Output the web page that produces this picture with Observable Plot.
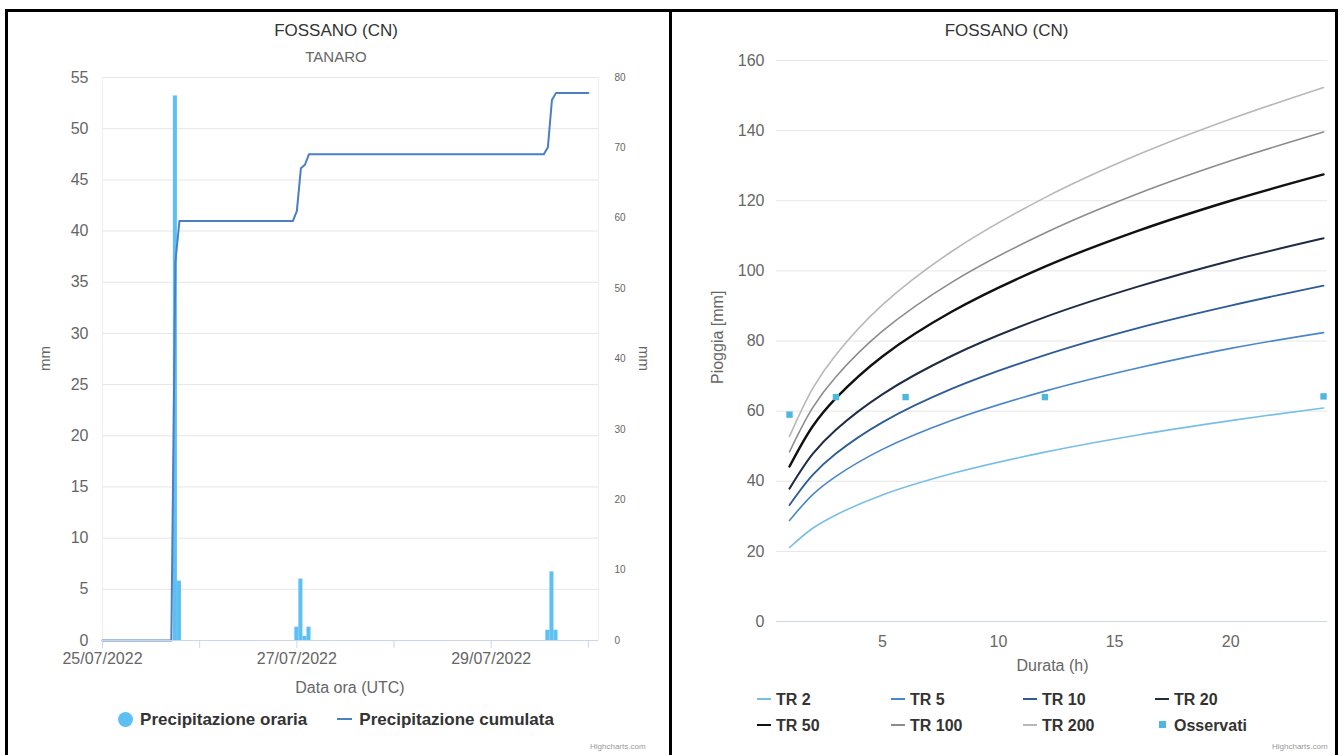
<!DOCTYPE html>
<html><head><meta charset="utf-8">
<script src="https://cdn.jsdelivr.net/npm/d3@7"></script>
<script src="https://cdn.jsdelivr.net/npm/@observablehq/plot@0.6"></script>
<style>
body{margin:0;background:#fff;font-family:"Liberation Sans",Arial,Helvetica,sans-serif;}
#page{position:relative;width:1344px;height:755px;overflow:hidden;background:#fff;}
.abs{position:absolute;white-space:nowrap;}
.panel{position:absolute;border:3px solid #000;box-sizing:border-box;}
.title{font-size:17px;color:#333;text-align:center;}
.sub{font-size:15px;color:#666;text-align:center;}
.axt{font-size:15px;color:#666;text-align:center;}
.leg{font-size:16px;font-weight:bold;color:#333;}
.cred{font-size:8px;color:#999;}
svg{position:absolute;overflow:visible;}
</style></head><body><div id="page"></div>
<script>
// ---------- LEFT CHART DATA ----------
const barTimes  = ["2022-07-25T18:00Z","2022-07-25T19:00Z",
                   "2022-07-27T00:00Z","2022-07-27T01:00Z","2022-07-27T02:00Z","2022-07-27T03:00Z",
                   "2022-07-29T14:00Z","2022-07-29T15:00Z","2022-07-29T16:00Z"];
const barValues = [53.2, 5.8, 1.3, 6.0, 0.4, 1.3, 1.0, 6.7, 1.0];
const cumTimes  = ["2022-07-25T00:00Z","2022-07-25T17:00Z","2022-07-25T18:00Z","2022-07-25T19:00Z",
                   "2022-07-26T23:00Z","2022-07-27T00:00Z","2022-07-27T01:00Z","2022-07-27T02:00Z","2022-07-27T03:00Z",
                   "2022-07-29T13:00Z","2022-07-29T14:00Z","2022-07-29T15:00Z","2022-07-29T16:00Z","2022-07-30T00:00Z"];
const cumValues = [0, 0, 53.8, 59.6, 59.6, 61.0, 67.1, 67.6, 69.1, 69.1, 70.1, 76.8, 77.8, 77.8];
const leftTicks  = [0,5,10,15,20,25,30,35,40,45,50,55];
const rightTicks = [0,10,20,30,40,50,60,70,80];
const dayTicks   = ["2022-07-25","2022-07-26","2022-07-27","2022-07-28","2022-07-29","2022-07-30"];
const labelDays  = ["25/07/2022","27/07/2022","29/07/2022"];

// ---------- RIGHT CHART DATA ----------
const durations = [1, 2, 3, 5, 8, 12, 16, 20, 24];
const tr2   = [21.1, 26.6, 30.4, 36.1, 42.2, 48.3, 53.2, 57.3, 60.9];
const tr5   = [28.8, 36.2, 41.4, 49.1, 57.4, 65.7, 72.3, 77.9, 82.4];
const tr10  = [33.2, 41.8, 47.9, 56.8, 66.4, 76.0, 83.7, 90.1, 95.8];
const tr20  = [37.9, 47.8, 54.7, 64.8, 75.8, 86.8, 95.5, 102.9, 109.3];
const tr50  = [44.2, 55.7, 63.7, 75.6, 88.4, 101.2, 111.4, 120.0, 127.5];
const tr100 = [48.4, 61.0, 69.8, 82.8, 96.8, 110.8, 122.0, 131.4, 139.6];
const tr200 = [52.8, 66.5, 76.1, 90.3, 105.6, 120.9, 133.1, 143.3, 152.3];
const seriesNames = ["TR 2","TR 5","TR 10","TR 20","TR 50","TR 100","TR 200"];
const seriesColors = ["#78bfe6","#4a86c8","#2e5c96","#1f2c44","#111111","#8c8c8c","#b8b8b8"];
const seriesWidths = [1.6,1.6,1.8,2,2.4,1.6,1.6];
const obsDurations = [1, 3, 6, 12, 24];
const obsValues    = [59.0, 64.0, 64.0, 64.0, 64.2];
const rightYTicks  = [0,20,40,60,80,100,120,140,160];
const rightXTicks  = [5,10,15,20];

const page = document.getElementById("page");
function add(html, cls, css){
  const d = document.createElement("div");
  d.className = "abs " + (cls||"");
  d.innerHTML = html;
  Object.assign(d.style, css);
  page.appendChild(d);
  return d;
}
const font = '"Liberation Sans",Arial,Helvetica,sans-serif';

// panels
add("", "panel", {left:"5px", top:"9px", width:"667px", height:"760px"});
add("", "panel", {left:"669px", top:"9px", width:"669px", height:"760px"});

// ---------- LEFT ----------
const LMAX = 55, RMAX = 80;
const toLeft = v => v * LMAX / RMAX;
const H = 3600e3;
const bars = barTimes.map((t,i)=>({t:new Date(t), v:barValues[i]}));
const cum = cumTimes.map((t,i)=>({t:new Date(t), v:cumValues[i]}));
const fmtDay = d3.utcFormat("%d/%m/%Y");

const left = Plot.plot({
  width: 672, height: 620,
  marginLeft: 102, marginRight: 74, marginTop: 17, marginBottom: 40,
  style: {fontFamily: font, fontSize: "15px", color: "#666", background: "transparent", overflow:"visible"},
  x: {type: "utc", domain: [new Date("2022-07-25T00:00Z"), new Date("2022-07-30T02:30Z")]},
  y: {domain: [0, LMAX]},
  marks: [
    Plot.gridY(leftTicks, {stroke: "#e6e6e6", strokeOpacity: 1}),
    Plot.ruleX([new Date("2022-07-25T00:00Z"), new Date("2022-07-30T02:30Z")], {stroke:"#eeeeee"}),
    Plot.rectY(bars, {x1: d => new Date(+d.t - 0.5*H), x2: d => new Date(+d.t + 0.5*H), y: "v", fill: "#5ec0f2", inset: 0}),
    Plot.line(cum, {x: "t", y: d => toLeft(d.v), stroke: "#4a7fc1", strokeWidth: 2}),
    Plot.ruleY([0], {stroke: "#ccd6eb"}),
    Plot.axisY(leftTicks, {anchor: "left", tickSize: 0, tickPadding: 14, fontSize: 16, label: null}),
    Plot.axisY(rightTicks.map(toLeft), {anchor: "right", tickSize: 0, tickPadding: 16, fontSize: 10, label: null,
      tickFormat: d => String(Math.round(d * RMAX / LMAX))}),
    Plot.axisX(dayTicks.map(d => new Date(d + "T00:00Z")), {tickSize: 8, tickPadding: 4, stroke: "#ccd6eb", fontSize: 16, label: null,
      tickFormat: d => labelDays.includes(fmtDay(d)) ? fmtDay(d) : ""})
  ]
});
left.style.left = "0px"; left.style.top = "60px";
page.appendChild(left);

add("FOSSANO (CN)", "title", {left:"0px", width:"672px", top:"21px"});
add("TANARO", "sub", {left:"0px", width:"672px", top:"48px"});
add("mm", "axt", {left:"32px", top:"350px", transform:"rotate(-90deg)", transformOrigin:"center"});
add("mm", "axt", {left:"632px", top:"350px", transform:"rotate(90deg)", transformOrigin:"center"});
add("Data ora (UTC)", "axt", {left:"102px", width:"496px", top:"679px", fontSize:"16px"});
add('<span style="display:inline-block;width:15px;height:15px;border-radius:50%;background:#5ec0f2;vertical-align:-2px;margin-right:7px"></span>Precipitazione oraria'
  + '<span style="display:inline-block;width:15px;height:2px;background:#4a7fc1;vertical-align:5px;margin:0 7px 0 30px"></span>Precipitazione cumulata',
  "leg", {left:"0px", width:"672px", top:"710px", textAlign:"center", fontSize:"17px"});
add("Highcharts.com", "cred", {left:"590px", top:"742px"});

// ---------- RIGHT ----------
const trData = [tr2,tr5,tr10,tr20,tr50,tr100,tr200];
const rows = [];
trData.forEach((arr,k) => arr.forEach((v,i) => rows.push({s: seriesNames[k], d: durations[i], v})));
const obs = obsDurations.map((d,i)=>({d, v: obsValues[i]}));

const right = Plot.plot({
  width: 672, height: 640,
  marginLeft: 107, marginRight: 14, marginTop: 20, marginBottom: 59,
  style: {fontFamily: font, fontSize: "15px", color: "#666", background: "transparent", overflow:"visible"},
  x: {domain: [0.44, 24.17]},
  y: {domain: [0, 160]},
  marks: [
    Plot.gridY(rightYTicks, {stroke: "#e6e6e6", strokeOpacity: 1}),
    Plot.ruleY([0], {stroke: "#ccd6eb"}),
    ...seriesNames.map((s,k) => Plot.line(rows.filter(r => r.s === s),
      {x: "d", y: "v", stroke: seriesColors[k], strokeWidth: seriesWidths[k], curve: "catmull-rom"})),
    Plot.dot(obs, {x: "d", y: "v", symbol: "square", r: 3.6, fill: "#4fb6e0", stroke: "none"}),
    Plot.axisY(rightYTicks, {anchor: "left", tickSize: 0, tickPadding: 12, fontSize: 16, label: null}),
    Plot.axisX(rightXTicks, {tickSize: 0, tickPadding: 14, fontSize: 16, label: null})
  ]
});
right.style.left = "669px"; right.style.top = "40px";
page.appendChild(right);

add("FOSSANO (CN)", "title", {left:"672px", width:"669px", top:"21px"});
add("Pioggia [mm]", "axt", {left:"673px", top:"330px", transform:"rotate(-90deg)", transformOrigin:"center", width:"90px", fontSize:"16px"});
add("Durata (h)", "axt", {left:"776px", width:"553px", top:"657px", fontSize:"16px"});

const legCols = [757, 891, 1023, 1155];
const legRows = [691, 717];
const legItems = seriesNames.map((s,k)=>({s, c: seriesColors[k], w: seriesWidths[k]}));
legItems.push({s:"Osservati", c:"#4fb6e0", sq:true});
legItems.forEach((it,i) => {
  const col = i % 4, row = Math.floor(i / 4);
  const sym = it.sq
    ? '<span style="display:inline-block;width:7px;height:7px;background:'+it.c+';vertical-align:3px;margin:0 8px 0 4px"></span>'
    : '<span style="display:inline-block;width:14px;height:'+Math.max(2,Math.round(it.w))+'px;background:'+it.c+';vertical-align:5px;margin-right:5px"></span>';
  add(sym + it.s, "leg", {left: legCols[col] + "px", top: legRows[row] + "px"});
});
add("Highcharts.com", "cred", {left:"1272px", top:"742px"});
</script></body></html>
